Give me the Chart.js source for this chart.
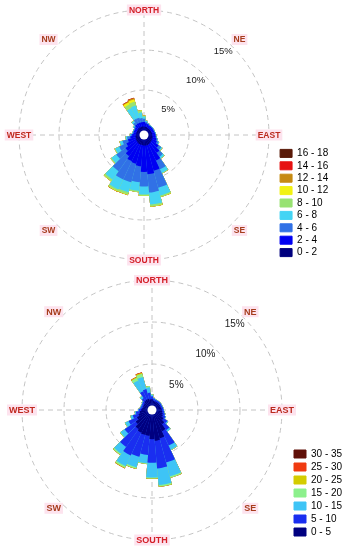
<!DOCTYPE html>
<html><head><meta charset="utf-8">
<script src="https://cdn.jsdelivr.net/npm/chart.js@4.4.1/dist/chart.umd.min.js"></script>
<style>
html,body{margin:0;padding:0;background:#fff;width:346px;height:550px;overflow:hidden}
.box{position:relative;width:346px;height:275px}
</style></head>
<body>
<div class="box"><canvas id="c1"></canvas></div>
<div class="box"><canvas id="c2"></canvas></div>
<script>
// wind directions (degrees, bin centres)
const directions = [0,10,20,30,40,50,60,70,80,90,100,110,120,130,140,150,160,170,180,190,200,210,220,230,240,250,260,270,280,290,300,310,320,330,340,350];
const compassLabels = ['NORTH','NE','EAST','SE','SOUTH','SW','WEST','NW'];
const ringValues = [5,10,15];

// ---- top rose: frequency (%) per speed class ----
const topClasses = ['0 - 2','2 - 4','4 - 6','6 - 8','8 - 10','10 - 12','12 - 14','14 - 16','16 - 18'];
const top0_2   = [0.45,0.4,0.4,0.35,0.35,0.35,0.35,0.35,0.4,0.4,0.45,0.5,0.5,0.55,0.6,0.65,0.7,0.7,0.7,0.65,0.65,0.65,0.6,0.55,0.5,0.45,0.45,0.4,0.35,0.35,0.35,0.4,0.45,0.45,0.45,0.45];
const top2_4   = [0.55,0.45,0.4,0.35,0.35,0.35,0.35,0.35,0.35,0.4,0.4,0.5,0.65,1.05,1.5,2.25,3.3,3.6,3.3,2.65,2.45,2.35,2.0,1.65,1.3,1.0,0.65,0.45,0.35,0.35,0.35,0.35,0.5,0.55,0.55,0.55];
const top4_6   = [0.4,0.2,0.1,0.1,0.08,0.08,0.08,0.08,0.08,0.08,0.1,0.15,0.25,0.4,0.6,1.2,2.2,2.3,1.8,2.0,2.4,2.5,2.3,1.4,1.0,0.7,0.4,0.2,0.12,0.1,0.1,0.2,0.35,0.6,0.6,0.5];
const top6_8   = [0.3,0.12,0.05,0.04,0.03,0.03,0.03,0.03,0.03,0.03,0.04,0.05,0.08,0.15,0.25,0.5,1.0,1.5,1.0,1.1,1.3,1.4,1.3,0.75,0.55,0.35,0.2,0.1,0.06,0.04,0.04,0.12,0.25,1.5,1.6,0.7];
const top8_10  = [0.08,0.03,0,0,0,0,0,0,0,0,0,0,0,0.05,0.05,0.08,0.18,0.25,0.18,0.15,0.3,0.25,0.25,0.12,0.1,0.05,0,0,0,0,0,0.03,0.05,0.5,0.5,0.25];
const top10_12 = [0.02,0,0,0,0,0,0,0,0,0,0,0,0,0,0,0,0.02,0.04,0.02,0,0.05,0.05,0.04,0,0,0,0,0,0,0,0,0,0,0.3,0.3,0.05];
const top12_14 = [0,0,0,0,0,0,0,0,0,0,0,0,0,0,0,0,0,0,0,0,0.01,0.02,0,0,0,0,0,0,0,0,0,0,0,0.1,0.15,0];
const top14_16 = [0,0,0,0,0,0,0,0,0,0,0,0,0,0,0,0,0,0,0,0,0,0,0,0,0,0,0,0,0,0,0,0,0,0.03,0.05,0];
const top16_18 = [0,0,0,0,0,0,0,0,0,0,0,0,0,0,0,0,0,0,0,0,0,0,0,0,0,0,0,0,0,0,0,0,0,0,0.01,0];
const topColors = ['#00007f','#0000f2','#3171e6','#44d4f4','#98e272','#f2f212','#c68a12','#e61212','#5a1a08'];

// ---- bottom rose: frequency (%) per speed class ----
const botClasses = ['0 - 5','5 - 10','10 - 15','15 - 20','20 - 25','25 - 30','30 - 35'];
const bot0_5   = [0.8,0.65,0.6,0.6,0.6,0.6,0.6,0.6,0.65,0.7,0.75,0.85,0.95,1.2,1.6,2.3,3.0,3.2,3.0,2.6,2.6,2.5,2.3,1.9,1.5,1.2,1.0,0.8,0.7,0.65,0.65,0.7,0.85,0.9,0.9,0.8];
const bot5_10  = [0.35,0.25,0.22,0.2,0.2,0.2,0.2,0.2,0.2,0.2,0.22,0.28,0.35,0.55,0.85,1.9,3.0,3.3,2.8,2.3,2.7,3.0,2.6,1.6,1.1,0.7,0.45,0.3,0.22,0.22,0.22,0.25,0.4,1.1,1.2,0.8];
const bot10_15 = [0.2,0.08,0.06,0.05,0.05,0.05,0.05,0.05,0.05,0.05,0.06,0.06,0.08,0.13,0.22,0.55,1.7,2.0,1.75,1.0,1.3,1.4,1.0,0.6,0.45,0.28,0.15,0.1,0.08,0.08,0.08,0.1,0.3,1.4,1.5,0.65];
const bot15_20 = [0.05,0.02,0,0,0,0,0,0,0,0,0,0,0,0,0,0.05,0.17,0.18,0.13,0.1,0.17,0.22,0.17,0.08,0.05,0.02,0,0,0,0,0,0,0.05,0.35,0.4,0.13];
const bot20_25 = [0,0,0,0,0,0,0,0,0,0,0,0,0,0,0,0,0.03,0.02,0.02,0,0.03,0.06,0.03,0,0,0,0,0,0,0,0,0,0,0.1,0.12,0.02];
const bot25_30 = [0,0,0,0,0,0,0,0,0,0,0,0,0,0,0,0,0,0,0,0,0,0.02,0,0,0,0,0,0,0,0,0,0,0,0.03,0.05,0];
const bot30_35 = [0,0,0,0,0,0,0,0,0,0,0,0,0,0,0,0,0,0,0,0,0,0,0,0,0,0,0,0,0,0,0,0,0,0,0.01,0];
const botColors = ['#000080','#1a2ef0','#3ec4f6','#8cf08c','#d4cc00','#f03a10','#601008'];

// 72 angular slots of 5 deg starting at -5 deg; compass names on the 45-deg slots
const slotLabels = Array.from({length: 72}, (_, i) => ((i - 1) % 9 === 0 ? compassLabels[(i - 1) / 9] : ''));
const compassColors = {NORTH:'#d42028', SOUTH:'#d42028', EAST:'#bb2a1e', WEST:'#c0281e', NE:'#a63c1c', NW:'#a63c1c', SE:'#a63c1c', SW:'#a63c1c'};

function stacked(series, names, colors) {
  const run = new Array(directions.length).fill(0);
  return series.map((s, j) => {
    s.forEach((v, i) => { run[i] += v; });
    return {label: names[j], data: run.slice(), backgroundColor: colors[j], borderWidth: 0};
  });
}

function decor(o) {
  return {
    id: 'decor',
    afterDatasetsDraw(chart) {
      const s = chart.scales.r, ctx = chart.ctx, R = s.drawingArea;
      ctx.save();
      ctx.fillStyle = '#fff';
      ctx.beginPath(); ctx.arc(s.xCenter, s.yCenter, o.hole, 0, Math.PI * 2); ctx.fill();
      ctx.textAlign = 'center'; ctx.textBaseline = 'middle';
      ctx.font = o.tickFont; ctx.fillStyle = '#222';
      const a = o.tickAngle * Math.PI / 180;
      ringValues.forEach(v => {
        const d = s.getDistanceFromCenterForValue(v) - o.tickInset;
        ctx.fillText(v + '%', s.xCenter + d * Math.sin(a), s.yCenter - d * Math.cos(a));
      });
      ctx.font = o.compassFont;
      chart.data.labels.forEach((lab, i) => {
        if (!lab) return;
        const diag = compassLabels.indexOf(lab) % 2 === 1;
        const p = s.getPointPosition(i, R + (diag ? o.diagOut : o.axisOut));
        const w = ctx.measureText(lab).width;
        ctx.fillStyle = '#fde3ee';
        ctx.fillRect(p.x - w / 2 - 2, p.y - 5.5, w + 4, 11);
        ctx.fillStyle = compassColors[lab];
        ctx.fillText(lab, p.x, p.y + 0.5);
      });
      ctx.restore();
    }
  };
}

function makeRose(id, datasets, minV, pad, legendPad, legendMaxW, o) {
  new Chart(document.getElementById(id), {
    type: 'polarArea',
    data: {labels: slotLabels, datasets: datasets},
    options: {
      responsive: true, maintainAspectRatio: false, animation: false, events: [],
      layout: {padding: pad},
      scales: {
        r: {
          min: minV, max: 15, startAngle: -5,
          afterBuildTicks: sc => { sc.ticks = ringValues.map(v => ({value: v})); },
          ticks: {display: false},
          grid: {circular: true, color: '#c4c4c4', lineWidth: 1},
          border: {dash: [5, 4]},
          angleLines: {display: true, borderDash: [5, 4], lineWidth: 1,
            color: c => ((c.index - 1) % 18 === 0 ? '#c4c4c4' : 'rgba(0,0,0,0)')},
          pointLabels: {display: false}
        }
      },
      plugins: {
        tooltip: {enabled: false},
        legend: {
          position: 'right', align: 'end', maxWidth: legendMaxW,
          labels: {
            boxWidth: 12, boxHeight: 8, padding: legendPad, color: '#222',
            font: {size: 10, family: '"Liberation Sans", Arial, sans-serif'},
            generateLabels: ch => ch.data.datasets.map((d, i) => ({
              text: d.label, fillStyle: d.backgroundColor, strokeStyle: d.backgroundColor,
              lineWidth: 1, hidden: false, datasetIndex: i
            })).reverse()
          }
        }
      }
    },
    plugins: [decor(o)]
  });
}

makeRose('c1',
  stacked([top0_2, top2_4, top4_6, top6_8, top8_10, top10_12, top12_14, top14_16, top16_18], topClasses, topColors),
  -0.625, {left: 10.4, right: 7.8, top: 10, bottom: 15}, 2.4, undefined,
  {hole: 4.5, tickFont: '9.5px "Liberation Sans", Arial, sans-serif', tickAngle: 43.5, tickInset: 10,
   compassFont: 'bold 8.5px "Liberation Sans", Arial, sans-serif', axisOut: 0, diagOut: 10});

makeRose('c2',
  stacked([bot0_5, bot5_10, bot10_15, bot15_20, bot20_25, bot25_30, bot30_35], botClasses, botColors),
  -0.476, {left: 13, right: 0, top: 5, bottom: 10}, 3, 55,
  {hole: 4.5, tickFont: '10px "Liberation Sans", Arial, sans-serif', tickAngle: 44, tickInset: 11,
   compassFont: 'bold 9px "Liberation Sans", Arial, sans-serif', axisOut: 0, diagOut: 9});
</script>
</body></html>
